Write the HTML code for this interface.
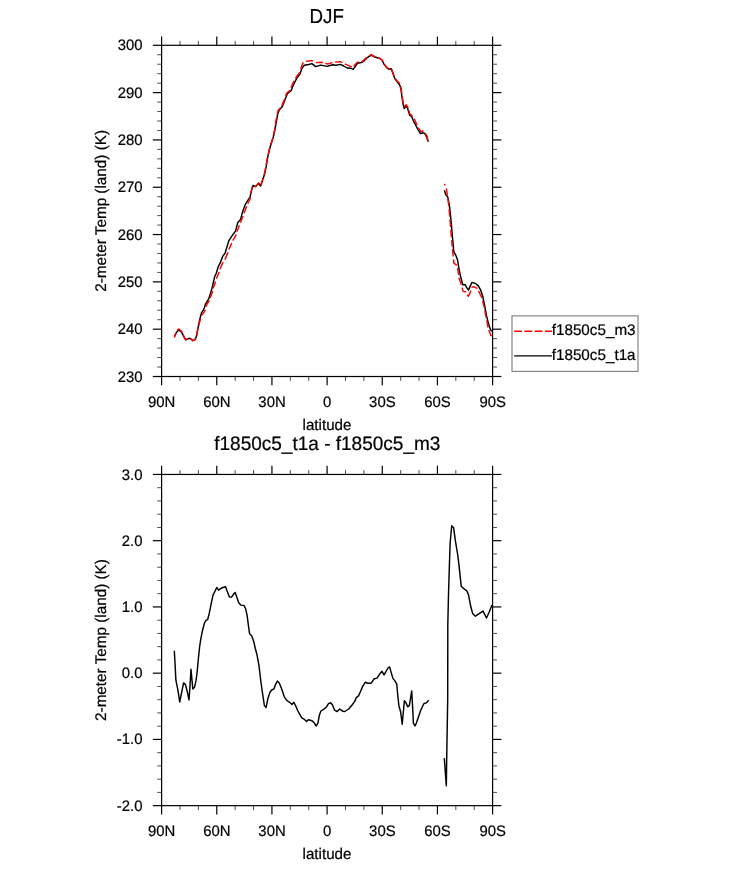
<!DOCTYPE html>
<html><head><meta charset="utf-8"><title>DJF</title>
<style>
html,body{margin:0;padding:0;background:#fff;}
body{width:733px;height:869px;overflow:hidden;}
svg{display:block;will-change:transform;}
text{font-family:"Liberation Sans",sans-serif;font-size:15.2px;fill:#000;stroke:#000;stroke-width:0.22px;text-rendering:geometricPrecision;}
.m{stroke-width:0.7;}.a{font-size:15.4px;}.t{font-size:20.2px;}.t2{font-size:19.5px;}
</style></head><body>
<svg width="733" height="869" viewBox="0 0 733 869">
<rect width="733" height="869" fill="#fff"/>
<g stroke="#000" stroke-width="1.2" fill="none">
<rect x="161.60" y="45.30" width="331.00" height="331.20" fill="none"/>
<line x1="161.60" y1="36.50" x2="161.60" y2="45.30"/>
<line x1="161.60" y1="376.50" x2="161.60" y2="385.30"/>
<line class="m" x1="179.99" y1="40.90" x2="179.99" y2="45.30"/>
<line class="m" x1="179.99" y1="376.50" x2="179.99" y2="380.90"/>
<line class="m" x1="198.38" y1="40.90" x2="198.38" y2="45.30"/>
<line class="m" x1="198.38" y1="376.50" x2="198.38" y2="380.90"/>
<line x1="216.77" y1="36.50" x2="216.77" y2="45.30"/>
<line x1="216.77" y1="376.50" x2="216.77" y2="385.30"/>
<line class="m" x1="235.16" y1="40.90" x2="235.16" y2="45.30"/>
<line class="m" x1="235.16" y1="376.50" x2="235.16" y2="380.90"/>
<line class="m" x1="253.54" y1="40.90" x2="253.54" y2="45.30"/>
<line class="m" x1="253.54" y1="376.50" x2="253.54" y2="380.90"/>
<line x1="271.93" y1="36.50" x2="271.93" y2="45.30"/>
<line x1="271.93" y1="376.50" x2="271.93" y2="385.30"/>
<line class="m" x1="290.32" y1="40.90" x2="290.32" y2="45.30"/>
<line class="m" x1="290.32" y1="376.50" x2="290.32" y2="380.90"/>
<line class="m" x1="308.71" y1="40.90" x2="308.71" y2="45.30"/>
<line class="m" x1="308.71" y1="376.50" x2="308.71" y2="380.90"/>
<line x1="327.10" y1="36.50" x2="327.10" y2="45.30"/>
<line x1="327.10" y1="376.50" x2="327.10" y2="385.30"/>
<line class="m" x1="345.49" y1="40.90" x2="345.49" y2="45.30"/>
<line class="m" x1="345.49" y1="376.50" x2="345.49" y2="380.90"/>
<line class="m" x1="363.88" y1="40.90" x2="363.88" y2="45.30"/>
<line class="m" x1="363.88" y1="376.50" x2="363.88" y2="380.90"/>
<line x1="382.27" y1="36.50" x2="382.27" y2="45.30"/>
<line x1="382.27" y1="376.50" x2="382.27" y2="385.30"/>
<line class="m" x1="400.66" y1="40.90" x2="400.66" y2="45.30"/>
<line class="m" x1="400.66" y1="376.50" x2="400.66" y2="380.90"/>
<line class="m" x1="419.04" y1="40.90" x2="419.04" y2="45.30"/>
<line class="m" x1="419.04" y1="376.50" x2="419.04" y2="380.90"/>
<line x1="437.43" y1="36.50" x2="437.43" y2="45.30"/>
<line x1="437.43" y1="376.50" x2="437.43" y2="385.30"/>
<line class="m" x1="455.82" y1="40.90" x2="455.82" y2="45.30"/>
<line class="m" x1="455.82" y1="376.50" x2="455.82" y2="380.90"/>
<line class="m" x1="474.21" y1="40.90" x2="474.21" y2="45.30"/>
<line class="m" x1="474.21" y1="376.50" x2="474.21" y2="380.90"/>
<line x1="492.60" y1="36.50" x2="492.60" y2="45.30"/>
<line x1="492.60" y1="376.50" x2="492.60" y2="385.30"/>
<line x1="152.80" y1="45.30" x2="161.60" y2="45.30"/>
<line x1="492.60" y1="45.30" x2="501.40" y2="45.30"/>
<line class="m" x1="157.20" y1="54.76" x2="161.60" y2="54.76"/>
<line class="m" x1="492.60" y1="54.76" x2="497.00" y2="54.76"/>
<line class="m" x1="157.20" y1="64.23" x2="161.60" y2="64.23"/>
<line class="m" x1="492.60" y1="64.23" x2="497.00" y2="64.23"/>
<line class="m" x1="157.20" y1="73.69" x2="161.60" y2="73.69"/>
<line class="m" x1="492.60" y1="73.69" x2="497.00" y2="73.69"/>
<line class="m" x1="157.20" y1="83.15" x2="161.60" y2="83.15"/>
<line class="m" x1="492.60" y1="83.15" x2="497.00" y2="83.15"/>
<line x1="152.80" y1="92.61" x2="161.60" y2="92.61"/>
<line x1="492.60" y1="92.61" x2="501.40" y2="92.61"/>
<line class="m" x1="157.20" y1="102.08" x2="161.60" y2="102.08"/>
<line class="m" x1="492.60" y1="102.08" x2="497.00" y2="102.08"/>
<line class="m" x1="157.20" y1="111.54" x2="161.60" y2="111.54"/>
<line class="m" x1="492.60" y1="111.54" x2="497.00" y2="111.54"/>
<line class="m" x1="157.20" y1="121.00" x2="161.60" y2="121.00"/>
<line class="m" x1="492.60" y1="121.00" x2="497.00" y2="121.00"/>
<line class="m" x1="157.20" y1="130.47" x2="161.60" y2="130.47"/>
<line class="m" x1="492.60" y1="130.47" x2="497.00" y2="130.47"/>
<line x1="152.80" y1="139.93" x2="161.60" y2="139.93"/>
<line x1="492.60" y1="139.93" x2="501.40" y2="139.93"/>
<line class="m" x1="157.20" y1="149.39" x2="161.60" y2="149.39"/>
<line class="m" x1="492.60" y1="149.39" x2="497.00" y2="149.39"/>
<line class="m" x1="157.20" y1="158.85" x2="161.60" y2="158.85"/>
<line class="m" x1="492.60" y1="158.85" x2="497.00" y2="158.85"/>
<line class="m" x1="157.20" y1="168.32" x2="161.60" y2="168.32"/>
<line class="m" x1="492.60" y1="168.32" x2="497.00" y2="168.32"/>
<line class="m" x1="157.20" y1="177.78" x2="161.60" y2="177.78"/>
<line class="m" x1="492.60" y1="177.78" x2="497.00" y2="177.78"/>
<line x1="152.80" y1="187.24" x2="161.60" y2="187.24"/>
<line x1="492.60" y1="187.24" x2="501.40" y2="187.24"/>
<line class="m" x1="157.20" y1="196.71" x2="161.60" y2="196.71"/>
<line class="m" x1="492.60" y1="196.71" x2="497.00" y2="196.71"/>
<line class="m" x1="157.20" y1="206.17" x2="161.60" y2="206.17"/>
<line class="m" x1="492.60" y1="206.17" x2="497.00" y2="206.17"/>
<line class="m" x1="157.20" y1="215.63" x2="161.60" y2="215.63"/>
<line class="m" x1="492.60" y1="215.63" x2="497.00" y2="215.63"/>
<line class="m" x1="157.20" y1="225.09" x2="161.60" y2="225.09"/>
<line class="m" x1="492.60" y1="225.09" x2="497.00" y2="225.09"/>
<line x1="152.80" y1="234.56" x2="161.60" y2="234.56"/>
<line x1="492.60" y1="234.56" x2="501.40" y2="234.56"/>
<line class="m" x1="157.20" y1="244.02" x2="161.60" y2="244.02"/>
<line class="m" x1="492.60" y1="244.02" x2="497.00" y2="244.02"/>
<line class="m" x1="157.20" y1="253.48" x2="161.60" y2="253.48"/>
<line class="m" x1="492.60" y1="253.48" x2="497.00" y2="253.48"/>
<line class="m" x1="157.20" y1="262.95" x2="161.60" y2="262.95"/>
<line class="m" x1="492.60" y1="262.95" x2="497.00" y2="262.95"/>
<line class="m" x1="157.20" y1="272.41" x2="161.60" y2="272.41"/>
<line class="m" x1="492.60" y1="272.41" x2="497.00" y2="272.41"/>
<line x1="152.80" y1="281.87" x2="161.60" y2="281.87"/>
<line x1="492.60" y1="281.87" x2="501.40" y2="281.87"/>
<line class="m" x1="157.20" y1="291.33" x2="161.60" y2="291.33"/>
<line class="m" x1="492.60" y1="291.33" x2="497.00" y2="291.33"/>
<line class="m" x1="157.20" y1="300.80" x2="161.60" y2="300.80"/>
<line class="m" x1="492.60" y1="300.80" x2="497.00" y2="300.80"/>
<line class="m" x1="157.20" y1="310.26" x2="161.60" y2="310.26"/>
<line class="m" x1="492.60" y1="310.26" x2="497.00" y2="310.26"/>
<line class="m" x1="157.20" y1="319.72" x2="161.60" y2="319.72"/>
<line class="m" x1="492.60" y1="319.72" x2="497.00" y2="319.72"/>
<line x1="152.80" y1="329.19" x2="161.60" y2="329.19"/>
<line x1="492.60" y1="329.19" x2="501.40" y2="329.19"/>
<line class="m" x1="157.20" y1="338.65" x2="161.60" y2="338.65"/>
<line class="m" x1="492.60" y1="338.65" x2="497.00" y2="338.65"/>
<line class="m" x1="157.20" y1="348.11" x2="161.60" y2="348.11"/>
<line class="m" x1="492.60" y1="348.11" x2="497.00" y2="348.11"/>
<line class="m" x1="157.20" y1="357.57" x2="161.60" y2="357.57"/>
<line class="m" x1="492.60" y1="357.57" x2="497.00" y2="357.57"/>
<line class="m" x1="157.20" y1="367.04" x2="161.60" y2="367.04"/>
<line class="m" x1="492.60" y1="367.04" x2="497.00" y2="367.04"/>
<line x1="152.80" y1="376.50" x2="161.60" y2="376.50"/>
<line x1="492.60" y1="376.50" x2="501.40" y2="376.50"/>
<rect x="161.60" y="474.45" width="331.00" height="331.20" fill="none"/>
<line x1="161.60" y1="465.65" x2="161.60" y2="474.45"/>
<line x1="161.60" y1="805.65" x2="161.60" y2="814.45"/>
<line class="m" x1="179.99" y1="470.05" x2="179.99" y2="474.45"/>
<line class="m" x1="179.99" y1="805.65" x2="179.99" y2="810.05"/>
<line class="m" x1="198.38" y1="470.05" x2="198.38" y2="474.45"/>
<line class="m" x1="198.38" y1="805.65" x2="198.38" y2="810.05"/>
<line x1="216.77" y1="465.65" x2="216.77" y2="474.45"/>
<line x1="216.77" y1="805.65" x2="216.77" y2="814.45"/>
<line class="m" x1="235.16" y1="470.05" x2="235.16" y2="474.45"/>
<line class="m" x1="235.16" y1="805.65" x2="235.16" y2="810.05"/>
<line class="m" x1="253.54" y1="470.05" x2="253.54" y2="474.45"/>
<line class="m" x1="253.54" y1="805.65" x2="253.54" y2="810.05"/>
<line x1="271.93" y1="465.65" x2="271.93" y2="474.45"/>
<line x1="271.93" y1="805.65" x2="271.93" y2="814.45"/>
<line class="m" x1="290.32" y1="470.05" x2="290.32" y2="474.45"/>
<line class="m" x1="290.32" y1="805.65" x2="290.32" y2="810.05"/>
<line class="m" x1="308.71" y1="470.05" x2="308.71" y2="474.45"/>
<line class="m" x1="308.71" y1="805.65" x2="308.71" y2="810.05"/>
<line x1="327.10" y1="465.65" x2="327.10" y2="474.45"/>
<line x1="327.10" y1="805.65" x2="327.10" y2="814.45"/>
<line class="m" x1="345.49" y1="470.05" x2="345.49" y2="474.45"/>
<line class="m" x1="345.49" y1="805.65" x2="345.49" y2="810.05"/>
<line class="m" x1="363.88" y1="470.05" x2="363.88" y2="474.45"/>
<line class="m" x1="363.88" y1="805.65" x2="363.88" y2="810.05"/>
<line x1="382.27" y1="465.65" x2="382.27" y2="474.45"/>
<line x1="382.27" y1="805.65" x2="382.27" y2="814.45"/>
<line class="m" x1="400.66" y1="470.05" x2="400.66" y2="474.45"/>
<line class="m" x1="400.66" y1="805.65" x2="400.66" y2="810.05"/>
<line class="m" x1="419.04" y1="470.05" x2="419.04" y2="474.45"/>
<line class="m" x1="419.04" y1="805.65" x2="419.04" y2="810.05"/>
<line x1="437.43" y1="465.65" x2="437.43" y2="474.45"/>
<line x1="437.43" y1="805.65" x2="437.43" y2="814.45"/>
<line class="m" x1="455.82" y1="470.05" x2="455.82" y2="474.45"/>
<line class="m" x1="455.82" y1="805.65" x2="455.82" y2="810.05"/>
<line class="m" x1="474.21" y1="470.05" x2="474.21" y2="474.45"/>
<line class="m" x1="474.21" y1="805.65" x2="474.21" y2="810.05"/>
<line x1="492.60" y1="465.65" x2="492.60" y2="474.45"/>
<line x1="492.60" y1="805.65" x2="492.60" y2="814.45"/>
<line x1="152.80" y1="474.45" x2="161.60" y2="474.45"/>
<line x1="492.60" y1="474.45" x2="501.40" y2="474.45"/>
<line class="m" x1="157.20" y1="487.70" x2="161.60" y2="487.70"/>
<line class="m" x1="492.60" y1="487.70" x2="497.00" y2="487.70"/>
<line class="m" x1="157.20" y1="500.95" x2="161.60" y2="500.95"/>
<line class="m" x1="492.60" y1="500.95" x2="497.00" y2="500.95"/>
<line class="m" x1="157.20" y1="514.19" x2="161.60" y2="514.19"/>
<line class="m" x1="492.60" y1="514.19" x2="497.00" y2="514.19"/>
<line class="m" x1="157.20" y1="527.44" x2="161.60" y2="527.44"/>
<line class="m" x1="492.60" y1="527.44" x2="497.00" y2="527.44"/>
<line x1="152.80" y1="540.69" x2="161.60" y2="540.69"/>
<line x1="492.60" y1="540.69" x2="501.40" y2="540.69"/>
<line class="m" x1="157.20" y1="553.94" x2="161.60" y2="553.94"/>
<line class="m" x1="492.60" y1="553.94" x2="497.00" y2="553.94"/>
<line class="m" x1="157.20" y1="567.19" x2="161.60" y2="567.19"/>
<line class="m" x1="492.60" y1="567.19" x2="497.00" y2="567.19"/>
<line class="m" x1="157.20" y1="580.43" x2="161.60" y2="580.43"/>
<line class="m" x1="492.60" y1="580.43" x2="497.00" y2="580.43"/>
<line class="m" x1="157.20" y1="593.68" x2="161.60" y2="593.68"/>
<line class="m" x1="492.60" y1="593.68" x2="497.00" y2="593.68"/>
<line x1="152.80" y1="606.93" x2="161.60" y2="606.93"/>
<line x1="492.60" y1="606.93" x2="501.40" y2="606.93"/>
<line class="m" x1="157.20" y1="620.18" x2="161.60" y2="620.18"/>
<line class="m" x1="492.60" y1="620.18" x2="497.00" y2="620.18"/>
<line class="m" x1="157.20" y1="633.43" x2="161.60" y2="633.43"/>
<line class="m" x1="492.60" y1="633.43" x2="497.00" y2="633.43"/>
<line class="m" x1="157.20" y1="646.67" x2="161.60" y2="646.67"/>
<line class="m" x1="492.60" y1="646.67" x2="497.00" y2="646.67"/>
<line class="m" x1="157.20" y1="659.92" x2="161.60" y2="659.92"/>
<line class="m" x1="492.60" y1="659.92" x2="497.00" y2="659.92"/>
<line x1="152.80" y1="673.17" x2="161.60" y2="673.17"/>
<line x1="492.60" y1="673.17" x2="501.40" y2="673.17"/>
<line class="m" x1="157.20" y1="686.42" x2="161.60" y2="686.42"/>
<line class="m" x1="492.60" y1="686.42" x2="497.00" y2="686.42"/>
<line class="m" x1="157.20" y1="699.67" x2="161.60" y2="699.67"/>
<line class="m" x1="492.60" y1="699.67" x2="497.00" y2="699.67"/>
<line class="m" x1="157.20" y1="712.91" x2="161.60" y2="712.91"/>
<line class="m" x1="492.60" y1="712.91" x2="497.00" y2="712.91"/>
<line class="m" x1="157.20" y1="726.16" x2="161.60" y2="726.16"/>
<line class="m" x1="492.60" y1="726.16" x2="497.00" y2="726.16"/>
<line x1="152.80" y1="739.41" x2="161.60" y2="739.41"/>
<line x1="492.60" y1="739.41" x2="501.40" y2="739.41"/>
<line class="m" x1="157.20" y1="752.66" x2="161.60" y2="752.66"/>
<line class="m" x1="492.60" y1="752.66" x2="497.00" y2="752.66"/>
<line class="m" x1="157.20" y1="765.91" x2="161.60" y2="765.91"/>
<line class="m" x1="492.60" y1="765.91" x2="497.00" y2="765.91"/>
<line class="m" x1="157.20" y1="779.15" x2="161.60" y2="779.15"/>
<line class="m" x1="492.60" y1="779.15" x2="497.00" y2="779.15"/>
<line class="m" x1="157.20" y1="792.40" x2="161.60" y2="792.40"/>
<line class="m" x1="492.60" y1="792.40" x2="497.00" y2="792.40"/>
<line x1="152.80" y1="805.65" x2="161.60" y2="805.65"/>
<line x1="492.60" y1="805.65" x2="501.40" y2="805.65"/>
</g>
<g fill="none" stroke-linejoin="round" stroke-linecap="butt">
<path d="M174.6 336.6 L175.9 333.3 L177.6 330.9 L179.2 330.3 L181.4 331.9 L183.0 334.9 L184.6 338.2 L185.7 339.9 L187.4 339.0 L189.9 338.2 L191.2 339.3 L192.8 340.7 L194.7 339.9 L196.1 337.4 L197.0 333.8 L197.7 329.5 L198.8 324.0 L200.1 318.0 L201.6 312.6 L203.2 310.4 L204.3 307.7 L205.4 304.4 L207.0 301.6 L208.7 298.9 L210.3 294.0 L211.9 288.6 L213.6 281.5 L214.7 276.5 L216.3 273.3 L218.1 267.0 L220.3 262.7 L222.5 256.7 L225.2 252.8 L226.8 247.4 L229.0 240.3 L232.3 235.4 L235.6 231.0 L237.7 222.8 L240.5 219.6 L242.7 211.4 L245.4 204.3 L248.1 199.9 L250.0 197.2 L251.4 190.9 L253.0 185.5 L255.7 186.6 L258.5 183.1 L260.6 186.0 L262.3 181.1 L264.5 174.6 L266.1 166.9 L267.7 157.1 L269.9 147.8 L273.2 137.5 L275.0 129.0 L276.5 120.9 L277.6 114.4 L279.2 110.0 L282.5 106.2 L285.2 99.1 L287.4 93.7 L291.2 90.4 L293.9 83.8 L296.7 78.4 L299.9 74.0 L302.1 68.0 L304.3 65.3 L308.7 64.5 L311.9 63.6 L315.7 66.6 L320.7 65.1 L327.2 66.4 L332.7 64.7 L335.9 65.3 L340.5 64.4 L343.7 66.0 L347.0 68.0 L350.8 68.2 L353.0 69.5 L355.2 66.6 L357.4 63.3 L361.2 62.5 L363.9 61.1 L366.7 58.2 L369.4 56.2 L371.6 55.3 L374.8 57.0 L379.2 58.2 L381.9 60.0 L384.1 64.4 L386.8 67.7 L389.0 69.3 L391.2 68.7 L392.8 73.1 L394.8 78.6 L397.2 81.8 L399.9 85.4 L401.0 89.5 L401.9 96.6 L403.1 104.2 L404.2 108.6 L405.7 106.0 L407.5 108.0 L409.6 115.1 L411.8 116.7 L413.5 121.1 L415.6 124.9 L417.8 129.3 L420.6 133.7 L422.7 132.8 L424.7 133.4 L426.6 136.9 L428.2 141.8" stroke="#000" stroke-width="1.45"/>
<path d="M444.4 190.2 L445.7 194.6 L447.9 197.3 L449.6 207.1 L451.2 222.4 L452.3 235.5 L453.3 246.0 L453.8 251.9 L455.9 255.4 L457.6 260.0 L458.8 268.0 L460.5 276.1 L462.8 284.7 L465.1 284.7 L466.8 287.6 L468.5 290.1 L470.3 285.9 L472.0 282.4 L475.5 283.5 L478.3 285.9 L480.6 289.9 L482.9 296.8 L484.7 306.0 L486.4 315.2 L488.1 322.1 L489.8 327.9 L491.2 330.7 L492.1 330.7" stroke="#000" stroke-width="1.45"/>
<path d="M174.3 337.4 L175.9 333.0 L176.0 332.8 M177.3 330.4 L177.5 330.0 L179.0 328.9 L181.4 331.2 L182.2 332.8 M183.4 335.4 L184.6 338.0 L185.7 339.7 L187.4 338.8 L187.9 338.6 M190.4 338.5 L191.2 339.3 L192.8 340.7 L194.7 339.9 L195.7 338.1 M196.6 335.4 L197.0 333.8 L197.7 329.5 L198.0 328.2 M198.7 325.5 L198.9 324.5 L200.5 318.8 L200.6 318.3 M201.3 315.6 L203.6 313.0 L205.2 310.1 L205.3 309.6 M205.8 306.9 L205.8 306.7 L207.4 303.5 L209.3 300.7 L209.3 300.6 M210.1 297.9 L212.8 291.1 M213.3 288.4 L213.4 287.8 L215.6 281.5 M216.5 278.8 L216.6 278.5 L219.0 272.1 L219.0 272.0 M219.8 269.3 L223.0 262.4 L223.2 262.1 M224.9 259.7 L227.5 253.4 L227.9 252.3 M228.8 249.5 L231.4 243.9 L231.8 243.1 M232.8 240.6 L235.7 235.7 L236.1 234.4 M236.9 231.8 L237.0 231.4 L239.2 225.8 L239.4 225.3 M240.5 222.8 L243.0 215.9 L243.0 215.9 M243.9 213.2 L246.5 206.8 L246.7 206.4 M247.8 203.8 L250.0 199.3 L250.4 196.8 M250.9 194.0 L251.3 190.9 L252.5 186.7 M254.4 186.1 L255.7 186.6 L258.5 183.1 L259.4 184.4 M260.9 185.2 L262.2 181.1 L263.1 178.0 M264.0 175.3 L264.2 174.6 L265.6 168.0 M266.1 165.2 L267.4 157.8 M268.0 155.0 L269.7 147.8 L269.7 147.7 M270.6 145.0 L272.9 137.8 M273.5 135.0 L274.8 129.1 L275.0 127.7 M275.4 124.9 L275.9 120.9 L276.6 117.5 M277.2 114.7 L278.1 110.6 L280.3 108.1 M281.8 105.7 L284.6 99.1 L284.7 98.8 M285.7 96.1 L286.8 93.1 L290.1 90.4 L290.1 90.4 M291.1 87.7 L292.8 83.3 L294.2 80.8 M295.5 78.3 L296.1 77.3 L299.4 72.9 L299.7 72.1 M300.6 69.4 L301.6 66.4 L303.2 62.6 L303.4 62.5 M306.0 61.4 L306.5 61.2 L311.9 60.6 L313.1 61.2 M315.7 62.3 L316.3 62.6 L321.8 62.2 L322.8 62.5 M325.4 63.3 L327.8 64.0 L332.4 62.6 M335.1 62.1 L340.3 61.7 L342.3 62.6 M344.8 63.8 L349.2 65.8 L351.6 67.0 M353.7 66.7 L355.2 64.4 L357.4 62.2 L358.7 62.0 M361.4 61.7 L362.3 61.6 L365.0 58.9 L366.9 57.3 M369.2 55.7 L371.3 54.6 L374.8 56.8 L375.4 57.0 M378.0 57.7 L379.2 58.0 L382.0 59.8 L383.2 62.1 M384.5 64.5 L387.0 67.5 L389.2 69.0 L389.8 68.8 M391.7 69.2 L393.0 72.9 L394.1 75.9 M395.2 78.4 L397.4 81.2 L399.6 83.2 L399.8 83.8 M400.6 86.5 L401.2 88.5 L401.8 93.6 M402.2 96.3 L402.2 96.6 L403.3 103.3 M404.0 105.9 L404.2 106.6 L406.2 104.7 L408.0 107.5 L408.1 107.8 M408.8 110.4 L409.6 113.5 L411.8 115.6 L412.5 116.6 M414.1 118.9 L414.6 119.5 L416.7 124.4 L417.2 125.2 M418.5 127.6 L419.5 129.3 L421.1 132.0 L422.7 130.9 L423.4 131.5 M425.4 133.6 L426.6 135.3 L428.1 140.4" stroke="#f00" stroke-width="1.45"/>
<path d="M444.4 184.0 L445.2 185.3" stroke="#f00" stroke-width="1.45"/>
<path d="M446.4 188.4 L447.4 195.5 M447.8 198.2 L448.8 206.0 L448.8 206.1 M449.1 209.1 L449.8 216.6 M450.0 219.4 L450.6 227.0 M450.8 229.8 L450.9 231.1 L451.4 237.3 M451.7 240.1 L451.9 243.0 L452.3 246.6 M452.5 249.1 L452.5 249.1 L453.2 256.5 M453.5 259.3 L453.9 263.1 L456.6 265.1 L456.7 265.5 M457.6 268.2 L458.6 275.0 L458.6 275.1 M459.0 277.7 L461.3 284.9 M462.1 287.6 L463.1 291.4 L465.5 291.7 L465.9 292.4 M467.2 294.8 L468.4 296.3 L470.6 291.6 L470.8 290.5 M471.4 287.4 L473.8 286.8 L477.2 288.4 L477.3 288.6 M478.5 290.8 L481.9 298.0 M482.6 300.9 L484.5 308.0 M484.8 310.7 L486.2 317.7 M486.7 320.4 L488.1 327.5 M488.8 330.1 L490.8 335.3 L491.9 335.7" stroke="#f00" stroke-width="1.45"/>
<path d="M174.3 650.7 L175.0 662.7 L175.9 680.2 L178.1 691.1 L179.7 702.0 L181.9 691.1 L183.6 682.9 L185.5 684.6 L187.4 692.2 L189.0 699.9 L190.1 684.6 L191.0 669.3 L192.1 681.3 L192.8 688.9 L194.5 687.3 L196.1 680.2 L197.2 671.5 L198.3 659.5 L199.6 647.0 L200.5 640.9 L202.1 632.2 L204.3 623.5 L205.9 620.4 L207.6 619.7 L209.2 613.7 L211.4 602.7 L213.0 595.1 L215.2 590.7 L216.8 587.5 L218.5 590.2 L220.6 588.6 L222.8 587.5 L225.6 586.7 L227.2 591.3 L229.4 597.1 L231.6 597.1 L233.7 594.0 L235.2 592.4 L236.5 596.2 L238.7 602.7 L240.8 605.1 L244.1 605.5 L245.8 609.3 L247.2 615.8 L248.3 624.6 L249.6 633.8 L251.8 636.0 L253.9 642.0 L255.3 648.5 L257.0 654.8 L259.0 665.7 L260.8 681.0 L262.5 693.0 L264.4 705.6 L266.1 707.4 L267.9 698.5 L269.9 692.5 L271.7 690.0 L273.9 688.9 L275.6 684.3 L277.4 681.0 L279.4 683.2 L281.6 688.7 L284.3 696.8 L287.0 700.7 L289.7 702.3 L291.9 704.5 L293.9 702.3 L295.8 706.1 L297.9 711.0 L300.1 714.9 L301.8 717.9 L304.5 719.4 L306.6 721.5 L308.3 719.7 L312.1 720.8 L314.3 723.0 L316.3 726.0 L317.9 723.2 L319.3 715.5 L320.9 711.0 L323.6 709.4 L326.3 707.2 L328.5 703.6 L330.6 702.8 L332.5 705.0 L334.5 710.1 L337.2 711.5 L339.7 709.0 L342.7 711.2 L344.8 711.5 L348.7 709.0 L351.9 705.2 L354.7 701.4 L356.3 697.6 L358.5 695.9 L360.7 691.0 L362.8 686.1 L365.2 682.3 L367.8 683.2 L371.2 683.2 L374.3 678.7 L377.0 678.1 L379.8 674.0 L382.0 671.3 L384.0 674.9 L385.8 671.8 L388.0 668.0 L389.6 666.9 L391.3 672.9 L392.9 678.4 L395.1 681.1 L396.7 683.8 L397.8 695.8 L398.9 705.7 L400.6 711.7 L402.2 724.2 L403.3 712.2 L404.4 700.8 L406.0 702.9 L407.7 706.8 L409.3 705.7 L410.6 698.0 L411.7 690.9 L412.6 706.8 L413.4 723.1 L415.0 725.9 L416.4 723.1 L418.6 716.6 L420.8 710.0 L424.0 703.5 L426.2 702.9 L428.7 700.2" stroke="#000" stroke-width="1.45"/>
<path d="M444.3 758.1 L446.3 785.7 L446.9 746.0 L447.7 700.0 L447.8 625.0 L448.5 594.8 L449.2 571.3 L450.1 543.7 L451.7 525.7 L453.6 527.8 L455.4 540.9 L457.7 554.7 L459.2 567.1 L461.2 586.2 L464.4 589.2 L466.8 590.9 L468.5 594.8 L470.6 605.8 L472.6 613.4 L475.4 616.2 L479.5 613.4 L483.0 611.1 L486.5 618.0 L489.2 612.0 L492.0 605.1" stroke="#000" stroke-width="1.45"/>
</g>
<g>
<rect x="512.0" y="315.9" width="126.0" height="55.5" fill="#fff" stroke="#7a7a7a" stroke-width="1.1"/>
<line x1="514.2" y1="331.2" x2="552.0" y2="331.2" stroke="#f00" stroke-width="1.5" stroke-dasharray="7.8 2.45"/>
<line x1="514.2" y1="355.9" x2="552.0" y2="355.9" stroke="#000" stroke-width="1.3"/>
<text transform="translate(551.70 335.40) scale(0.990 1)" text-anchor="start" class="a">f1850c5_m3</text>
<text transform="translate(551.70 360.40) scale(0.990 1)" text-anchor="start" class="a">f1850c5_t1a</text>
</g>
<g>
<text transform="translate(142.50 50.35) scale(0.980 1)" text-anchor="end">300</text>
<text transform="translate(142.50 97.66) scale(0.980 1)" text-anchor="end">290</text>
<text transform="translate(142.50 144.98) scale(0.980 1)" text-anchor="end">280</text>
<text transform="translate(142.50 192.29) scale(0.980 1)" text-anchor="end">270</text>
<text transform="translate(142.50 239.61) scale(0.980 1)" text-anchor="end">260</text>
<text transform="translate(142.50 286.92) scale(0.980 1)" text-anchor="end">250</text>
<text transform="translate(142.50 334.24) scale(0.980 1)" text-anchor="end">240</text>
<text transform="translate(142.50 381.55) scale(0.980 1)" text-anchor="end">230</text>
<text transform="translate(161.70 407.05) scale(0.980 1)" text-anchor="middle">90N</text>
<text transform="translate(216.87 407.05) scale(0.980 1)" text-anchor="middle">60N</text>
<text transform="translate(272.03 407.05) scale(0.980 1)" text-anchor="middle">30N</text>
<text transform="translate(327.20 407.05) scale(0.980 1)" text-anchor="middle">0</text>
<text transform="translate(382.37 407.05) scale(0.980 1)" text-anchor="middle">30S</text>
<text transform="translate(437.53 407.05) scale(0.980 1)" text-anchor="middle">60S</text>
<text transform="translate(492.70 407.05) scale(0.980 1)" text-anchor="middle">90S</text>
<text transform="translate(327.00 429.50) scale(0.985 1)" text-anchor="middle" class="a">latitude</text>
<text class="a" transform="translate(105.7 210.90) rotate(-90) scale(0.992 1)" text-anchor="middle">2-meter Temp (land) (K)</text>
<text transform="translate(142.50 479.50) scale(0.980 1)" text-anchor="end">3.0</text>
<text transform="translate(142.50 545.74) scale(0.980 1)" text-anchor="end">2.0</text>
<text transform="translate(142.50 611.98) scale(0.980 1)" text-anchor="end">1.0</text>
<text transform="translate(142.50 678.22) scale(0.980 1)" text-anchor="end">0.0</text>
<text transform="translate(142.50 744.46) scale(0.980 1)" text-anchor="end">-1.0</text>
<text transform="translate(142.50 810.70) scale(0.980 1)" text-anchor="end">-2.0</text>
<text transform="translate(161.70 836.20) scale(0.980 1)" text-anchor="middle">90N</text>
<text transform="translate(216.87 836.20) scale(0.980 1)" text-anchor="middle">60N</text>
<text transform="translate(272.03 836.20) scale(0.980 1)" text-anchor="middle">30N</text>
<text transform="translate(327.20 836.20) scale(0.980 1)" text-anchor="middle">0</text>
<text transform="translate(382.37 836.20) scale(0.980 1)" text-anchor="middle">30S</text>
<text transform="translate(437.53 836.20) scale(0.980 1)" text-anchor="middle">60S</text>
<text transform="translate(492.70 836.20) scale(0.980 1)" text-anchor="middle">90S</text>
<text transform="translate(327.00 858.65) scale(0.985 1)" text-anchor="middle" class="a">latitude</text>
<text class="a" transform="translate(105.7 640.05) rotate(-90) scale(0.992 1)" text-anchor="middle">2-meter Temp (land) (K)</text>
<text transform="translate(326.65 22.80) scale(0.929 1)" text-anchor="middle" class="t">DJF</text>
<text transform="translate(327.30 450.40) scale(0.975 1)" text-anchor="middle" class="t2">f1850c5_t1a - f1850c5_m3</text>
</g>
</svg>
</body></html>
